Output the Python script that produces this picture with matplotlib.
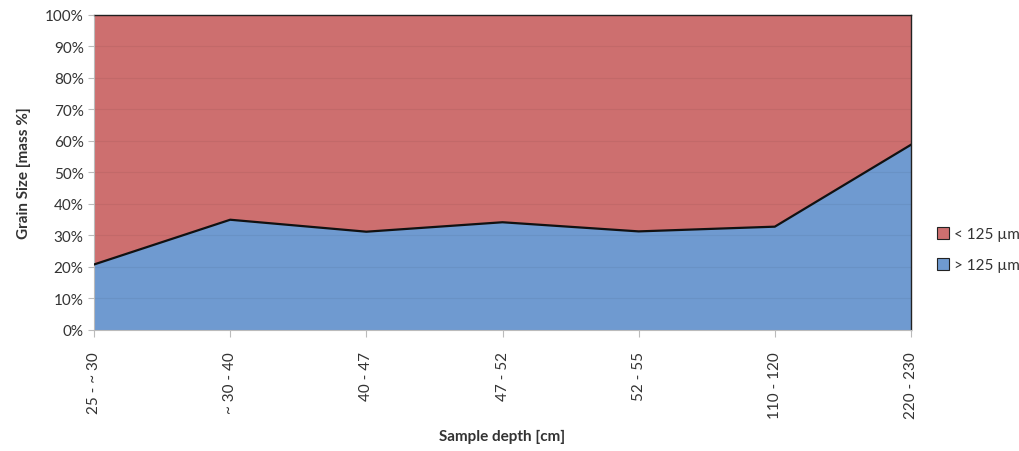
import matplotlib
matplotlib.use("Agg")
import matplotlib.pyplot as plt
from matplotlib.patches import Patch
from matplotlib.ticker import PercentFormatter

# Sample depth intervals and coarse-fraction share (mass %)
depths = ["25 - ~ 30", "~ 30 - 40", "40 - 47", "47 - 52", "52 - 55", "110 - 120", "220 - 230"]
coarse = [20.8, 35.0, 31.2, 34.2, 31.3, 32.8, 58.8]   # > 125 µm
fine = [100 - v for v in coarse]                        # < 125 µm

plt.rcParams['font.family'] = ['Lato', 'DejaVu Sans']

red = "#CD6F6F"
blue = "#6F9AD0"
txt = "#333333"

fig = plt.figure(figsize=(10.2, 4.52), dpi=100)
ax = fig.add_axes([0.0922, 0.2677, 0.8009, 0.697])

x = list(range(len(depths)))
ax.stackplot(x, coarse, fine, colors=[blue, red], zorder=1)
ax.plot(x, coarse, color="#111111", lw=1.6, zorder=3)

ax.set_xlim(0, len(depths) - 1)
ax.set_ylim(0, 100)
ax.set_yticks(range(0, 101, 10))
ax.yaxis.set_major_formatter(PercentFormatter(decimals=0))
ax.set_xticks(x)
ax.set_xticklabels(depths, rotation=90, fontsize=11, color=txt)
ax.tick_params(axis='y', labelsize=11, colors=txt, length=4, color="#bbbbbb")
ax.tick_params(axis='x', length=5, color="#bbbbbb", pad=10)

# faint gridlines over the fills
ax.grid(axis='y', color="#000000", alpha=0.05, lw=0.8, zorder=2)
ax.set_axisbelow(False)

for s in ("top", "right"):
    ax.spines[s].set_color("#222222")
    ax.spines[s].set_linewidth(1.0)
for s in ("left", "bottom"):
    ax.spines[s].set_color("#bbbbbb")

ax.set_ylabel("Grain Size [mass %]", fontsize=11, fontweight="bold", color=txt, labelpad=10)
fig.text(0.4926, 0.033, "Sample depth [cm]", fontsize=11, fontweight="bold",
         color=txt, ha="center", va="center")

handles = [Patch(facecolor=red, edgecolor="#222222", lw=0.8, label="< 125 µm"),
           Patch(facecolor=blue, edgecolor="#222222", lw=0.8, label="> 125 µm")]
leg = fig.legend(handles=handles, loc="center left", bbox_to_anchor=(0.905, 0.445),
                 frameon=False, fontsize=11, handlelength=0.8, handleheight=0.8,
                 handletextpad=0.3, labelspacing=1.1)
for t in leg.get_texts():
    t.set_color(txt)

fig.savefig("out.png", dpi=100, facecolor="white")
